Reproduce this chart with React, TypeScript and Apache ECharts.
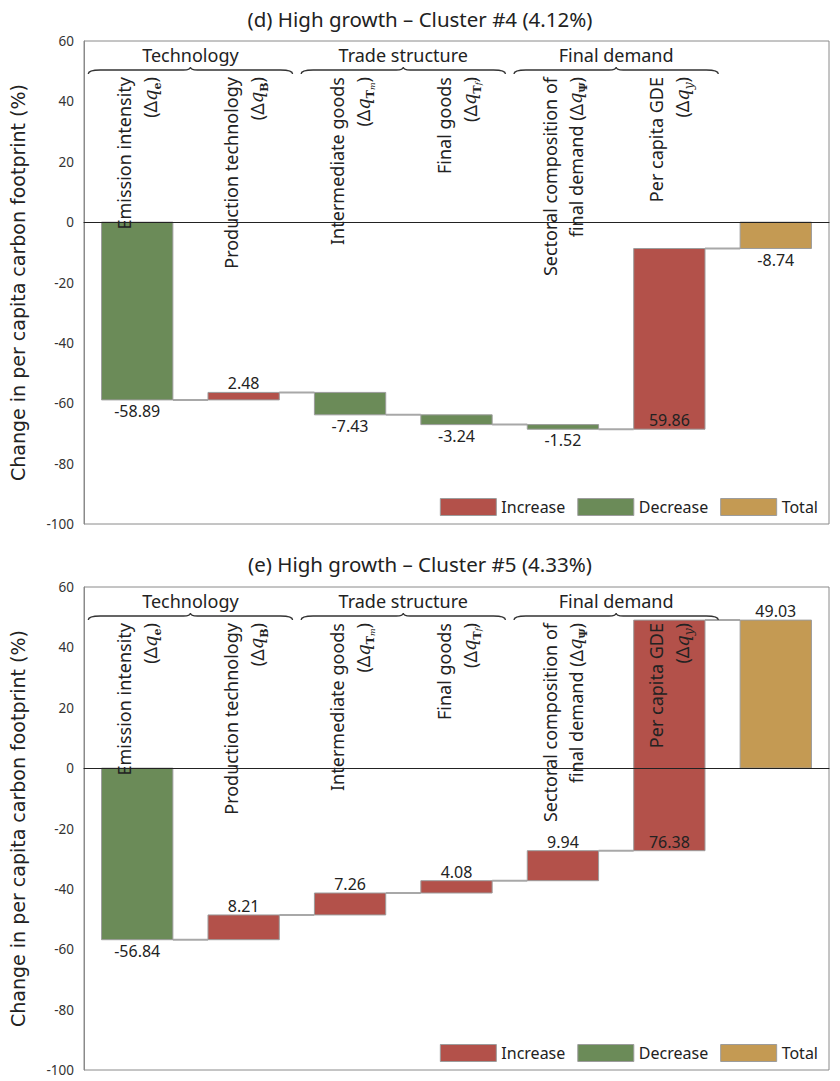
import React, { useEffect, useRef } from "react";
import * as echarts from "echarts";

// ---------- data ----------
const categoryLabels = [
  "Emission intensity\n(Δ{q|q}{sb|e})",
  "Production technology\n(Δ{q|q}{sb|B})",
  "Intermediate goods\n(Δ{q|q}{sb|T}{ss|m})",
  "Final goods\n(Δ{q|q}{sb|T}{ss|f})",
  "Sectoral composition of\nfinal demand (Δ{q|q}{sb|Ψ})",
  "Per capita GDE\n(Δ{q|q}{si|y})",
  "",
];

const groupNames = ["Technology", "Trade structure", "Final demand"];
const groupFirst = [0, 2, 4];
const groupLast = [1, 3, 5];

const titles = [
  "(d) High growth – Cluster #4 (4.12%)",
  "(e) High growth – Cluster #5 (4.33%)",
];
const effectsD = [-58.89, 2.48, -7.43, -3.24, -1.52, 59.86];
const totalD = -8.74;
const effectsE = [-56.84, 8.21, 7.26, 4.08, 9.94, 76.38];
const totalE = 49.03;

const yMin = -100;
const yMax = 60;
const yInterval = 20;

const legendNames = ["Increase", "Decrease", "Total"];
const yAxisName = "Change in per capita carbon footprint (%)";

// ---------- style ----------
const COLORS = { inc: "#b3514a", dec: "#6b8b58", total: "#c49a53" };
const BAR_BORDER = "#9c9c9c";
const FONT = "Noto Sans";

const gridTops = [41, 587];
const gridHeight = 483;
const titleTops = [3, 548];

function buildRows(values: number[], total: number) {
  const rows: number[][] = [];
  let cum = 0;
  values.forEach((v, i) => {
    rows.push([i, cum, cum + v]);
    cum += v;
  });
  rows.push([values.length, 0, total]);
  return rows;
}

function makeWaterfallRender(values: number[], total: number) {
  return (params: any, api: any) => {
    const i = params.dataIndex;
    const n = values.length;
    const start = api.value(1);
    const end = api.value(2);
    const c0 = api.coord([i, start]);
    const c1 = api.coord([i, end]);
    const step = api.size([1, 0])[0];
    const bw = step * 0.67;
    const x = c0[0] - bw / 2;
    const yTop = Math.min(c0[1], c1[1]);
    const yBot = Math.max(c0[1], c1[1]);
    const isTotal = i === n;
    const v = isTotal ? total : values[i];
    const color = isTotal ? COLORS.total : v >= 0 ? COLORS.inc : COLORS.dec;
    const children: any[] = [];
    if (!isTotal) {
      children.push({
        type: "line",
        shape: { x1: x + bw, y1: c1[1], x2: x + step, y2: c1[1] },
        style: { stroke: "#a8a8a8", lineWidth: 2 },
      });
    }
    children.push({
      type: "rect",
      shape: { x, y: yTop, width: bw, height: Math.max(yBot - yTop, 1) },
      style: { fill: color, stroke: BAR_BORDER, lineWidth: 1 },
    });
    let ly: number;
    let va: string;
    if (v < 0) {
      ly = yBot + 3;
      va = "top";
    } else if (!isTotal && v > 30) {
      ly = yBot - 1;
      va = "bottom";
    } else {
      ly = yTop - 1;
      va = "bottom";
    }
    children.push({
      type: "text",
      style: {
        text: v.toFixed(2),
        x: c0[0],
        y: ly,
        textAlign: "center",
        textVerticalAlign: va,
        align: "center",
        verticalAlign: va,
        fontSize: 16,
        fontFamily: FONT,
        fill: "#222",
      },
    });
    return { type: "group", children };
  };
}

function braceRender(params: any, api: any) {
  const gi = params.dataIndex;
  const a = api.coord([groupFirst[gi], yMax]);
  const b = api.coord([groupLast[gi], yMax]);
  const step = api.size([1, 0])[0];
  const x1 = a[0] - step * 0.46;
  const x2 = b[0] + step * 0.46;
  const xm = (x1 + x2) / 2;
  const y = a[1] + 29;
  const d =
    `M${x1},${y + 4} Q${x1},${y} ${x1 + 12},${y} L${xm - 7},${y} ` +
    `Q${xm},${y} ${xm},${y - 3} Q${xm},${y} ${xm + 7},${y} ` +
    `L${x2 - 12},${y} Q${x2},${y} ${x2},${y + 4}`;
  return {
    type: "group",
    children: [
      {
        type: "path",
        shape: { pathData: d },
        style: { fill: "none", stroke: "#333", lineWidth: 1.3 },
      },
      {
        type: "text",
        style: {
          text: groupNames[gi],
          x: xm,
          y: a[1] + 14,
          textAlign: "center",
          textVerticalAlign: "middle",
          align: "center",
          verticalAlign: "middle",
          fontSize: 18,
          fontFamily: FONT,
          fill: "#222",
        },
      },
    ],
  };
}

const richStyles = {
  q: { fontFamily: "DejaVu Serif", fontStyle: "italic", fontSize: 18, color: "#222" },
  sb: { fontFamily: "DejaVu Serif", fontWeight: "bold", fontSize: 11, verticalAlign: "bottom", color: "#222" },
  si: { fontFamily: "DejaVu Serif", fontStyle: "italic", fontSize: 12, verticalAlign: "bottom", color: "#222" },
  ss: { fontFamily: "DejaVu Serif", fontStyle: "italic", fontSize: 8, verticalAlign: "bottom", color: "#222" },
};

function buildOption() {
  const panels = [
    { values: effectsD, total: totalD },
    { values: effectsE, total: totalE },
  ];
  const grid: any[] = [];
  const xAxis: any[] = [];
  const yAxis: any[] = [];
  const series: any[] = [];
  const title: any[] = [];
  const legend: any[] = [];

  panels.forEach((p, g) => {
    title.push({
      text: titles[g],
      left: 415,
      top: titleTops[g],
      textAlign: "center",
      textStyle: { fontSize: 20.5, fontWeight: "normal", fontFamily: FONT, color: "#222" },
    });
    grid.push({
      left: 74,
      top: gridTops[g],
      width: 755,
      height: gridHeight,
      show: true,
      borderColor: "#8a8a8a",
      borderWidth: 1,
    });
    // label axis (top, labels inside)
    xAxis.push({
      type: "category",
      gridIndex: g,
      data: categoryLabels,
      position: "top",
      z: 10,
      axisLine: { show: false, onZero: false },
      axisTick: { show: false },
      splitLine: { show: false },
      axisLabel: {
        inside: true,
        rotate: -90,
        margin: 36,
        interval: 0,
        fontSize: 18,
        fontFamily: FONT,
        color: "#222",
        lineHeight: 26,
        rich: richStyles,
      },
    });
    // zero line axis
    xAxis.push({
      type: "category",
      gridIndex: g,
      data: categoryLabels,
      position: "bottom",
      z: 5,
      axisLine: { show: true, onZero: true, lineStyle: { color: "#222", width: 1 } },
      axisTick: { show: false },
      axisLabel: { show: false },
      splitLine: { show: false },
    });
    yAxis.push({
      type: "value",
      gridIndex: g,
      min: yMin,
      max: yMax,
      interval: yInterval,
      axisLine: { show: true, lineStyle: { color: "#8a8a8a" } },
      axisTick: { show: false },
      splitLine: { show: false },
      axisLabel: { fontSize: 13.5, color: "#333", margin: 10, fontFamily: FONT },
      name: yAxisName,
      nameLocation: "middle",
      nameGap: 57,
      nameTextStyle: { fontSize: 19, fontFamily: "DejaVu Sans", color: "#222" },
    });
    series.push({
      type: "custom",
      xAxisIndex: 2 * g + 1,
      yAxisIndex: g,
      z: 2,
      data: buildRows(p.values, p.total),
      encode: { x: 0, y: [1, 2] },
      renderItem: makeWaterfallRender(p.values, p.total),
    });
    series.push({
      type: "custom",
      xAxisIndex: 2 * g,
      yAxisIndex: g,
      z: 3,
      data: groupFirst.map((f) => [f, yMax]),
      encode: { x: 0, y: 1 },
      renderItem: braceRender,
    });
    legend.push({
      data: legendNames,
      right: 22,
      top: gridTops[g] + gridHeight - 26,
      padding: 0,
      itemGap: 12,
      itemWidth: 56,
      itemHeight: 17,
      icon: "rect",
      selectedMode: false,
      itemStyle: { borderColor: BAR_BORDER, borderWidth: 1 },
      textStyle: { fontSize: 16, fontFamily: FONT, color: "#222" },
    });
  });

  const legendColors = [COLORS.inc, COLORS.dec, COLORS.total];
  legendNames.forEach((name, k) => {
    series.push({
      type: "bar",
      name,
      xAxisIndex: 1,
      yAxisIndex: 0,
      data: [],
      itemStyle: { color: legendColors[k], borderColor: BAR_BORDER, borderWidth: 1 },
    });
  });

  return {
    animation: false,
    backgroundColor: "#ffffff",
    title,
    grid,
    xAxis,
    yAxis,
    series,
    legend,
  };
}

export default function App() {
  const ref = useRef<HTMLDivElement>(null);
  useEffect(() => {
    if (!ref.current) return;
    const chart = echarts.init(ref.current, undefined, { renderer: "svg" });
    chart.setOption(buildOption() as any);
    return () => chart.dispose();
  }, []);
  return (
    <div
      ref={ref}
      style={{ position: "absolute", left: 0, top: 0, width: 840, height: 1081 }}
    />
  );
}
